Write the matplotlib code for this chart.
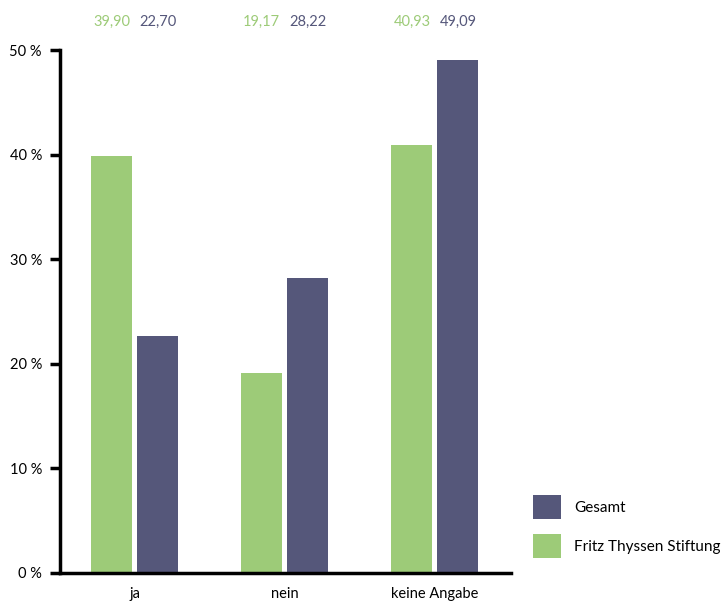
import matplotlib.pyplot as plt
import numpy as np

plt.rcParams['font.family'] = ['Lato', 'DejaVu Sans']

# Daten
kategorien = ['ja', 'nein', 'keine Angabe']
fts_werte = [39.90, 19.17, 40.93]
gesamt_werte = [22.70, 28.22, 49.09]
y_ticks = [0, 10, 20, 30, 40, 50]

gruen = '#9dcb78'
lila = '#55577a'

fig = plt.figure(figsize=(7.25, 6.03), dpi=100)
ax = fig.add_axes([0.0828, 0.0498, 0.622, 0.867])

x = np.arange(len(kategorien))
breite = 0.273
abstand = 0.153

ax.bar(x - abstand, fts_werte, breite, color=gruen, label='Fritz Thyssen Stiftung')
ax.bar(x + abstand, gesamt_werte, breite, color=lila, label='Gesamt')

# Werte oberhalb der Achse
for i in range(len(kategorien)):
    ax.text(x[i] - abstand, 1.055, f'{fts_werte[i]:.2f}'.replace('.', ','), color=gruen,
            ha='center', va='center', fontsize=10.5, transform=ax.get_xaxis_transform())
    ax.text(x[i] + abstand, 1.055, f'{gesamt_werte[i]:.2f}'.replace('.', ','), color=lila,
            ha='center', va='center', fontsize=10.5, transform=ax.get_xaxis_transform())

ax.set_xlim(-0.497, 2.507)
ax.set_ylim(0, 50)
ax.set_xticks(x)
ax.set_xticklabels(kategorien, fontsize=10.5)
ax.set_yticks(y_ticks)
ax.set_yticklabels([f'{t} %' for t in y_ticks], fontsize=10.5)
ax.tick_params(axis='x', length=0, pad=10)
ax.tick_params(axis='y', length=7, width=2.5, pad=6)

for s in ['top', 'right']:
    ax.spines[s].set_visible(False)
ax.spines['left'].set_linewidth(2.5)
ax.spines['bottom'].set_linewidth(2.5)

handles, labels = ax.get_legend_handles_labels()
fig.legend(handles[::-1], labels[::-1], loc='upper left', bbox_to_anchor=(0.735, 0.179),
           frameon=False, fontsize=11, handlelength=1.85, handleheight=2.0,
           labelspacing=1.0, handletextpad=0.85, borderaxespad=0, borderpad=0)

plt.savefig('out.png', dpi=100)
